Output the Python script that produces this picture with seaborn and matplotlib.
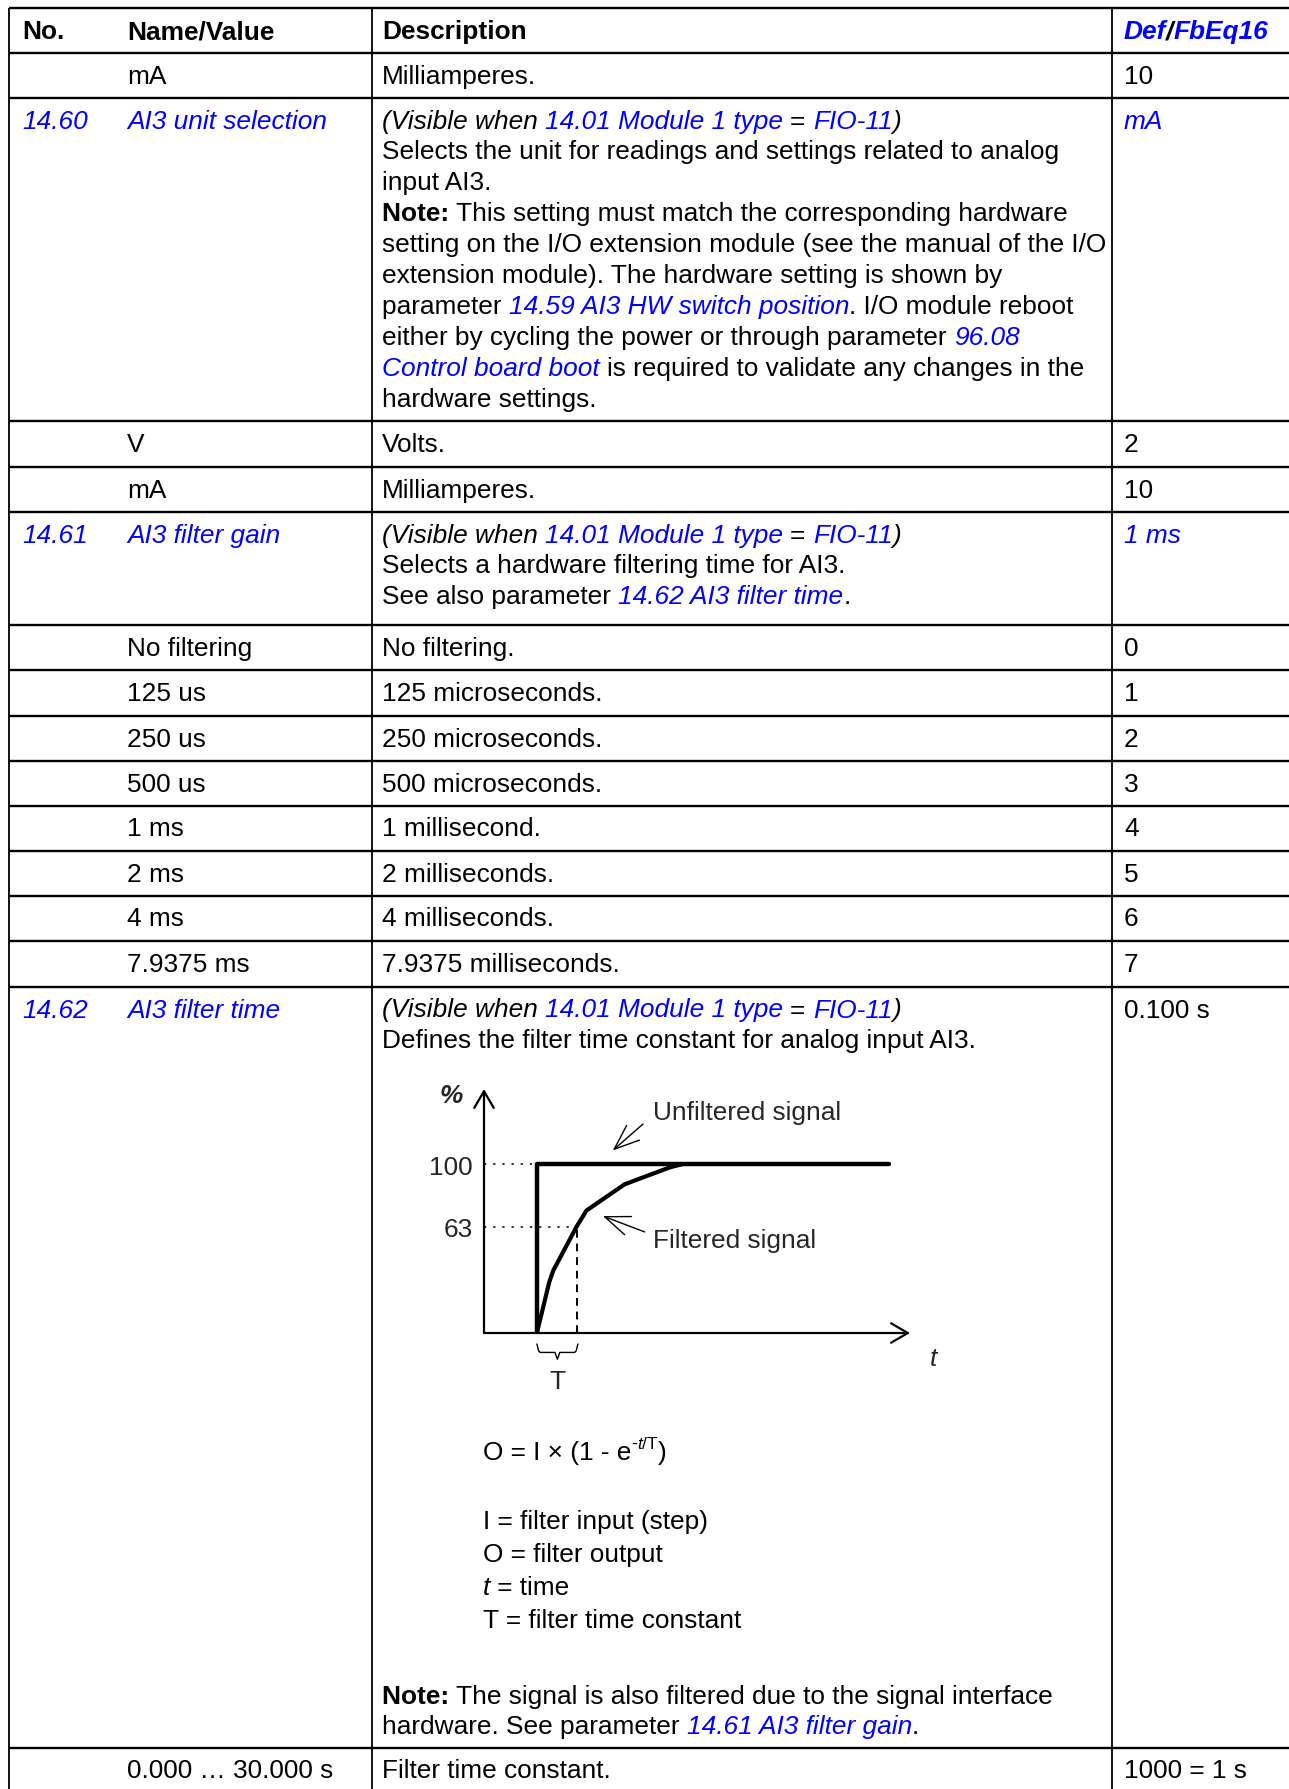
import matplotlib
matplotlib.use("Agg")
import matplotlib.pyplot as plt
import seaborn as sns

sns.set_style("white")
plt.rcParams['font.family'] = ['Liberation Sans', 'DejaVu Sans']

BLUE = '#0000FF'
FS = 18.9
W, H = 1289, 1790

# ---- table content ----
header = ["No.", "Name/Value", "Description"]
def_header = [("Def", 'lb'), ("/", 'bi'), ("FbEq16", 'lb')]

row_no = ["", "14.60", "", "", "14.61", "", "", "", "", "", "", "", "", "14.62", ""]
row_name = ["mA", "AI3 unit selection", "V", "mA", "AI3 filter gain", "No filtering",
            "125 us", "250 us", "500 us", "1 ms", "2 ms", "4 ms", "7.9375 ms",
            "AI3 filter time", "0.000 \u2026 30.000 s"]
row_def = ["10", "mA", "2", "10", "1 ms", "0", "1", "2", "3", "4", "5", "6", "7",
           "0.100 s", "1000 = 1 s"]
def_linked = [False, True, False, False, True] + [False] * 10

visible = [("(Visible when ", 'i'), ("14.01 Module 1 type ", 'l'), ("= ", 'n'),
           ("FIO-11", 'l'), (")", 'i')]
desc_1460 = [
    visible,
    [("Selects the unit for readings and settings related to analog", 'n')],
    [("input AI3.", 'n')],
    [("Note: ", 'b'), ("This setting must match the corresponding hardware", 'n')],
    [("setting on the I/O extension module (see the manual of the I/O", 'n')],
    [("extension module). The hardware setting is shown by", 'n')],
    [("parameter ", 'n'), ("14.59 AI3 HW switch position", 'l'), (". I/O module reboot", 'n')],
    [("either by cycling the power or through parameter ", 'n'), ("96.08", 'l')],
    [("Control board boot ", 'l'), ("is required to validate any changes in the", 'n')],
    [("hardware settings.", 'n')],
]
desc_1461 = [
    visible,
    [("Selects a hardware filtering time for AI3.", 'n')],
    [("See also parameter ", 'n'), ("14.62 AI3 filter time", 'l'), (".", 'n')],
]
desc_1462 = [
    visible,
    [("Defines the filter time constant for analog input AI3.", 'n')],
]
note_1462 = [
    [("Note: ", 'b'), ("The signal is also filtered due to the signal interface", 'n')],
    [("hardware. See parameter ", 'n'), ("14.61 AI3 filter gain", 'l'), (".", 'n')],
]
row_desc = ([[[("Milliamperes.", 'n')]], desc_1460, [[("Volts.", 'n')]],
             [[("Milliamperes.", 'n')]], desc_1461, [[("No filtering.", 'n')]],
             [[("125 microseconds.", 'n')]], [[("250 microseconds.", 'n')]],
             [[("500 microseconds.", 'n')]], [[("1 millisecond.", 'n')]],
             [[("2 milliseconds.", 'n')]], [[("4 milliseconds.", 'n')]],
             [[("7.9375 milliseconds.", 'n')]], desc_1462,
             [[("Filter time constant.", 'n')]]])

legend_lines = [
    [("I = filter input (step)", 'n')],
    [("O = filter output", 'n')],
    [("t", 'i'), (" = time", 'n')],
    [("T = filter time constant", 'n')],
]

# ---- diagram data (time in units of T, level in %) ----
unfilt_t = [0, 0, 8.6]
unfilt_y = [0, 100, 100]
filt_t = [0, 0.30, 0.40, 0.97, 1.21, 2.14, 3.24, 3.56]
filt_y = [0, 30, 37, 63, 72.5, 88, 98, 100]
level_ticks = [63, 100]
T_mark = 0.97

# ---- layout (pixels) ----
row_lines = [9, 54, 99, 422, 468, 513, 626, 671, 717, 762, 807, 852, 897, 942, 988, 1749]
col_x = [22, 127, 382, 1124]
vlines_x = [9, 372, 1112]
LINE = 30.9

STYLES = {
    'n': dict(color='black'),
    'b': dict(color='black', fontweight='bold'),
    'bi': dict(color='black', fontweight='bold', fontstyle='italic'),
    'i': dict(color='black', fontstyle='italic'),
    'l': dict(color=BLUE, fontstyle='italic'),
    'lb': dict(color=BLUE, fontstyle='italic', fontweight='bold'),
}

fig = plt.figure(figsize=(W / 100, H / 100), dpi=100)
ax = fig.add_axes([0, 0, 1, 1])
ax.set_xlim(0, W)
ax.set_ylim(H, 0)
ax.axis('off')
renderer = fig.canvas.get_renderer()


def advance(txt, size, kw):
    # width of the run including any trailing space
    a = ax.text(0, 0, txt + '|', fontsize=size, **kw)
    b = ax.text(0, 0, '|', fontsize=size, **kw)
    w = a.get_window_extent(renderer).width - b.get_window_extent(renderer).width
    a.remove()
    b.remove()
    return w


def rich(x, y, parts):
    for p in parts:
        txt, st = p[0], p[1]
        size = p[2] if len(p) > 2 else FS
        dy = p[3] if len(p) > 3 else 0
        kw = STYLES[st]
        ax.text(x, y + dy, txt, fontsize=size, va='baseline', ha='left', **kw)
        x += advance(txt, size, kw)
    return x


# grid lines
ax.hlines(row_lines, vlines_x[0], W, color='black', lw=1.7)
ax.vlines(vlines_x, row_lines[0], H, color='black', lw=1.3)

# header
for x, h in zip(col_x[:3], header):
    rich(x, row_lines[0] + 30, [(h, 'b')])
rich(col_x[3], row_lines[0] + 30, def_header)

# body
for i in range(len(row_name)):
    base = row_lines[i + 1] + 29.5
    linked = row_no[i] != ""
    if row_no[i]:
        rich(col_x[0], base, [(row_no[i], 'l')])
    rich(col_x[1], base, [(row_name[i], 'l' if linked else 'n')])
    for k, line in enumerate(row_desc[i]):
        rich(col_x[2], base + k * LINE, line)
    rich(col_x[3], base, [(row_def[i], 'l' if def_linked[i] else 'n')])

# note and formula inside 14.62
bottom = row_lines[-1]
for k, line in enumerate(note_1462):
    rich(col_x[2], bottom - 45 + k * 30, line)

rich(483, 1460, [("O = I \u00d7 (1 - e", 'n'), ("-", 'n', 12.5, -11),
                 ("t", 'i', 12.5, -11), ("/T", 'n', 12.5, -11), (")", 'n')])
for k, line in enumerate(legend_lines):
    rich(483, 1529 + k * 33, line)

# ---- diagram ----
x0, x1, y_top, y0 = 484, 910, 1090, 1334
ax_in = fig.add_axes([x0 / W, 1 - y0 / H, (x1 - x0) / W, (y0 - y_top) / H])
ax_in.set_xlim(-1.29, 9.1)
ax_in.set_ylim(0, 144.4)
ax_in.patch.set_alpha(0)
for s in ax_in.spines.values():
    s.set_visible(False)
ax_in.set_xticks([])
ax_in.set_yticks(level_ticks)
ax_in.set_yticklabels([str(v) for v in level_ticks], fontsize=FS)
ax_in.tick_params(axis='y', length=0, pad=8)

arrow_kw = dict(arrowstyle='->,head_length=0.6,head_width=0.35', lw=1.6,
                color='black', mutation_scale=20, shrinkA=0, shrinkB=0)
ax_in.annotate('', xy=(1, 0), xytext=(0, 0), xycoords='axes fraction', arrowprops=arrow_kw)
ax_in.annotate('', xy=(0, 1), xytext=(0, 0), xycoords='axes fraction', arrowprops=arrow_kw)

sns.lineplot(x=unfilt_t, y=unfilt_y, sort=False, estimator=None, color='black', lw=3.2, ax=ax_in)
sns.lineplot(x=filt_t, y=filt_y, sort=False, estimator=None, color='black', lw=3, ax=ax_in)

ax_in.hlines(100, -1.29, 0, color='black', lw=1.1, linestyles=(0, (1.5, 4.5)))
ax_in.hlines(63, -1.29, T_mark, color='black', lw=1.1, linestyles=(0, (1.5, 4.5)))
ax_in.vlines(T_mark, 0, 63, color='black', lw=1.4, linestyles=(0, (4, 3)))

# brace under T
ax_in.plot([0, 0.04, 0.08, 0.44, 0.5, 0.56, 0.92, 0.96, 1.0],
           [-6.5, -10.5, -11.5, -11.5, -15.5, -11.5, -11.5, -10.5, -6.5],
           color='black', lw=1, clip_on=False)
ax_in.text(0.5, -28.7, "T", fontsize=FS, ha='center', va='center')
ax_in.text(9.68, -14.8, "t", fontsize=FS, ha='center', va='center', fontstyle='italic')
ax_in.text(-2.1, 140.8, "%", fontsize=FS, ha='center', va='center', fontstyle='italic',
           fontweight='bold')

thin = dict(arrowstyle='->,head_length=0.9,head_width=0.35', lw=1, color='black',
            mutation_scale=20, shrinkA=0, shrinkB=0)
ax_in.text(2.83, 131, "Unfiltered signal", fontsize=FS, va='center', ha='left')
ax_in.annotate('', xy=(1.85, 108), xytext=(2.59, 123.7), arrowprops=thin)
ax_in.text(2.83, 55, "Filtered signal", fontsize=FS, va='center', ha='left')
ax_in.annotate('', xy=(1.61, 69.2), xytext=(2.63, 59.8), arrowprops=thin)

fig.savefig("out.png", dpi=100)
